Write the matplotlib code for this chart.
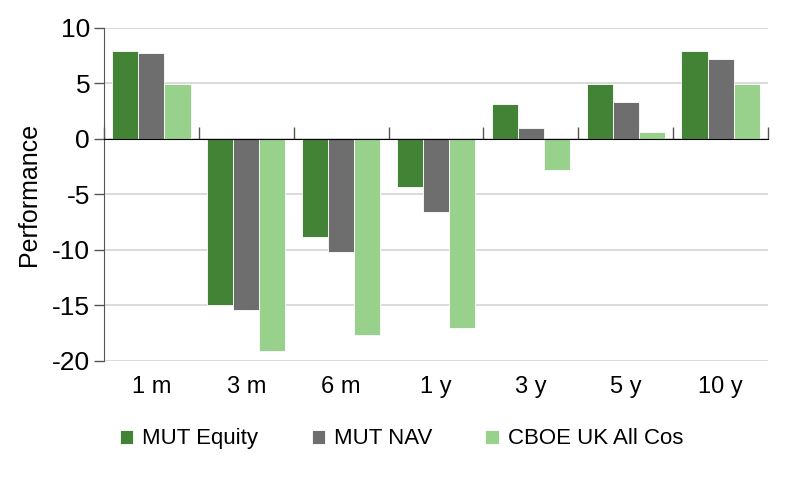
import matplotlib.pyplot as plt
import numpy as np
from matplotlib import font_manager

# data
kategorier = ["1 m", "3 m", "6 m", "1 y", "3 y", "5 y", "10 y"]
mut_equity = [7.9, -15.0, -8.8, -4.3, 3.1, 4.9, 7.9]
mut_nav = [7.7, -15.4, -10.2, -6.6, 1.0, 3.3, 7.2]
cboe_uk = [4.9, -19.1, -17.7, -17.0, -2.8, 0.6, 4.9]
serie_navne = ["MUT Equity", "MUT NAV", "CBOE UK All Cos"]
farver = ["#438336", "#6e6e6e", "#97d18b"]

navne = {f.name for f in font_manager.fontManager.ttflist}
if "Liberation Sans Narrow" in navne:
    plt.rcParams["font.family"] = ["Liberation Sans Narrow", "DejaVu Sans"]
else:
    plt.rcParams["font.family"] = ["Liberation Sans", "DejaVu Sans"]
plt.rcParams["axes.unicode_minus"] = False

fig = plt.figure(figsize=(8, 4.8), dpi=100)
ax = fig.add_axes([0.13, 0.248, 0.83, 0.694])

x = np.arange(len(kategorier))
bredde = 0.275
for i, (vaerdier, navn, farve) in enumerate(zip([mut_equity, mut_nav, cboe_uk], serie_navne, farver)):
    ax.bar(x + (i - 1) * bredde, vaerdier, width=bredde, color=farve, label=navn,
           edgecolor="white", linewidth=0.6, zorder=3)

ax.set_xlim(-0.5, len(kategorier) - 0.5)
ax.set_ylim(-20, 10)
ax.set_yticks(np.arange(-20, 11, 5))
ax.set_xticks(x)
ax.set_xticklabels(kategorier)
ax.tick_params(axis="x", length=0, labelsize=17, pad=11)
ax.tick_params(axis="y", length=7, width=1, color="#555555", labelsize=19, pad=3)
ax.grid(axis="y", color="#d4d4d4", linewidth=1.2, zorder=0)
for side in ["top", "right", "bottom"]:
    ax.spines[side].set_visible(False)
ax.spines["left"].set_color("#555555")
ax.set_ylabel("Performance", fontsize=18, labelpad=8)

# nul-linje med skillestreger mellem kategorierne
nul = ax.secondary_xaxis(2 / 3)
nul.set_zorder(5)
nul.set_xticks(np.arange(-0.5, len(kategorier), 1.0))
nul.set_xticklabels([])
nul.tick_params(axis="x", direction="out", length=9, width=1, color="#555555")
nul.spines["bottom"].set_color("#444444")
nul.spines["bottom"].set_linewidth(1.2)

fig.legend(loc="lower left", bbox_to_anchor=(0.125, 0.022), ncol=3, frameon=False,
           fontsize=16, handlelength=0.6, handleheight=0.6, handletextpad=0.4,
           columnspacing=2.4)

plt.savefig("out.png", dpi=100)
